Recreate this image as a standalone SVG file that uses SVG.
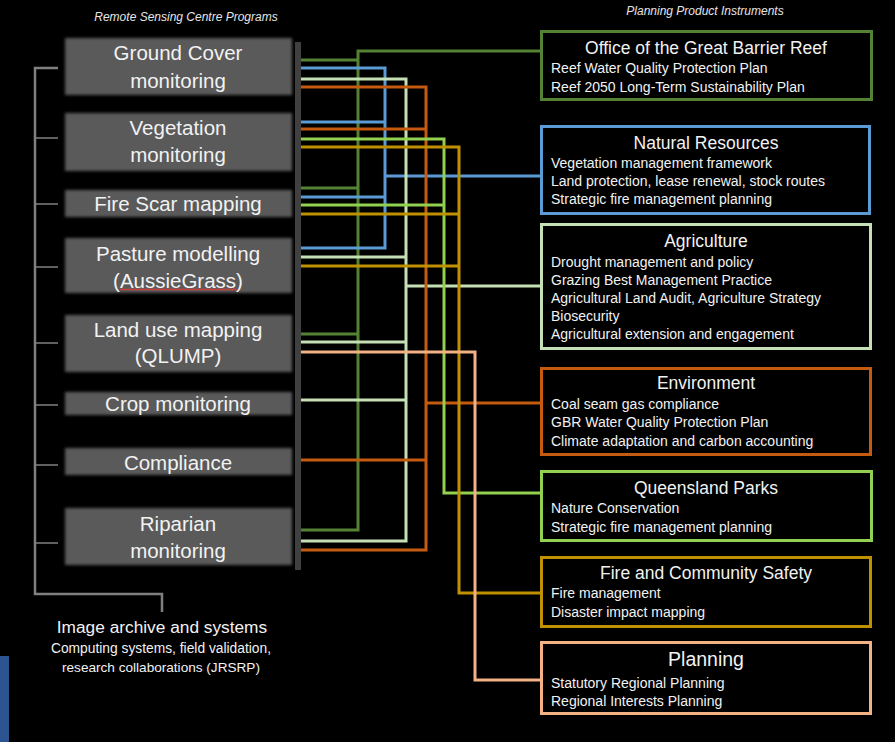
<svg xmlns="http://www.w3.org/2000/svg" width="895" height="742" viewBox="0 0 895 742">
<defs>
<filter id="soft" x="-5%" y="-25%" width="110%" height="150%"><feGaussianBlur stdDeviation="1.7"/></filter>
<style>
.bg{fill:#000}
.prog rect{fill:#5a5a5a;filter:url(#soft)}
.prog text{font-family:"Liberation Sans",Arial,sans-serif;font-size:20.5px;fill:#f2f2f2;text-anchor:middle}
.hdr{font-family:"Liberation Sans",Arial,sans-serif;font-size:12px;font-style:italic;fill:#e6e6e6;text-anchor:middle}
.inst rect{fill:#000;stroke-width:3}
.inst .t{font-family:"Liberation Sans",Arial,sans-serif;font-size:17.5px;fill:#f2f2f2;text-anchor:middle}
.inst .b{font-family:"Liberation Sans",Arial,sans-serif;font-size:14px;fill:#f2f2f2}
.br{stroke:#808080;fill:none;stroke-width:2.5}
.tick{stroke:#808080;fill:none;stroke-width:1.5}
.con path{fill:none;stroke-width:3;stroke-linejoin:miter;stroke-linecap:butt}
.arch{font-family:"Liberation Sans",Arial,sans-serif;fill:#f2f2f2;text-anchor:middle}
</style>
</defs>
<rect class="bg" x="0" y="0" width="895" height="742"/>
<rect x="0" y="656" width="9" height="86" fill="#2c5490"/>

<text class="hdr" x="186" y="21">Remote Sensing Centre Programs</text>
<text class="hdr" x="705" y="15">Planning Product Instruments</text>

<g id="bracket">
<path class="br" d="M58,68 H35 V594 H162 V612"/>
<path class="tick" d="M35,138 H58 M35,204 H58 M35,267 H58 M35,343 H58 M35,405 H58 M35,465 H58 M35,543 H58"/>
</g>

<g id="ground-cover" class="prog"><rect x="65" y="38" width="227" height="57"/><text x="178" y="60">Ground Cover</text><text x="178" y="87.5">monitoring</text></g>
<g id="vegetation" class="prog"><rect x="65" y="113" width="227" height="58"/><text x="178" y="135">Vegetation</text><text x="178" y="162">monitoring</text></g>
<g id="fire-scar" class="prog"><rect x="65" y="190" width="227" height="27"/><text x="178" y="211">Fire Scar mapping</text></g>
<g id="pasture" class="prog"><rect x="65" y="238" width="227" height="55"/><text x="178" y="260.5">Pasture modelling</text><text x="178" y="287.5">(AussieGrass)</text><path d="M120,290 l2,-1 2,1 2,-1 2,1 2,-1 2,1 2,-1 2,1 2,-1 2,1 2,-1 2,1 2,-1 2,1 2,-1 2,1 2,-1 2,1 2,-1 2,1 2,-1 2,1 2,-1 2,1 2,-1 2,1 2,-1 2,1 2,-1 2,1 2,-1 2,1 2,-1 2,1 2,-1 2,1 2,-1 2,1 2,-1 2,1 2,-1 2,1 2,-1 2,1 2,-1 2,1 2,-1 2,1 2,-1 2,1 2,-1 2,1 2,-1 2,1 2,-1 2,1 2,-1 2,1 2,-1" fill="none" stroke="#d0413c" stroke-width="1.2"/></g>
<g id="land-use" class="prog"><rect x="65" y="315" width="227" height="57"/><text x="178" y="336.5">Land use mapping</text><text x="178" y="363">(QLUMP)</text></g>
<g id="crop" class="prog"><rect x="65" y="392" width="227" height="23"/><text x="178" y="411">Crop monitoring</text></g>
<g id="compliance" class="prog"><rect x="65" y="448" width="227" height="27"/><text x="178" y="470">Compliance</text></g>
<g id="riparian" class="prog"><rect x="65" y="508" width="227" height="57"/><text x="178" y="530.5">Riparian</text><text x="178" y="558">monitoring</text></g>

<rect id="bar" x="295" y="42" width="6" height="528" fill="#404040"/>

<g id="image-archive">
<text class="arch" x="162" y="633" font-size="17.3">Image archive and systems</text>
<text class="arch" x="161" y="652.5" font-size="13.8">Computing systems, field validation,</text>
<text class="arch" x="161" y="671.5" font-size="13.6">research collaborations (JRSRP)</text>
</g>

<g id="connectors" class="con">
<path stroke="#548235" d="M301,530 H358 V51 H540 M301,60 H358 M301,188 H358 M301,334 H358"/>
<path stroke="#5b9bd5" d="M301,68 H385 V248 H301 M301,122 H385 M301,197 H385 M385,176 H540"/>
<path stroke="#c5e0b4" d="M301,79 H406 V541 H301 M301,257 H406 M301,342 H406 M301,400 H406 M406,286 H540"/>
<path stroke="#c55a11" d="M301,87 H426 V550 H301 M301,129 H426 M301,460 H426 M426,403 H540"/>
<path stroke="#92d050" d="M301,139 H444 V493 H540 M301,205 H444"/>
<path stroke="#bf9000" d="M301,147 H459 V593 H540 M301,214 H459 M301,266 H459"/>
<path stroke="#f4b183" d="M301,352 H475 V680 H540"/>
</g>

<g id="gbr" class="inst"><rect x="541.5" y="31.5" width="330" height="68" stroke="#548235"/>
<text class="t" x="706" y="54">Office of the Great Barrier Reef</text>
<text class="b" x="551" y="73">Reef Water Quality Protection Plan</text>
<text class="b" x="551" y="92">Reef 2050 Long-Term Sustainability Plan</text></g>

<g id="natural-resources" class="inst"><rect x="541.5" y="126.5" width="328" height="87" stroke="#5b9bd5"/>
<text class="t" x="706" y="149">Natural Resources</text>
<text class="b" x="551" y="168">Vegetation management framework</text>
<text class="b" x="551" y="186">Land protection, lease renewal, stock routes</text>
<text class="b" x="551" y="204">Strategic fire management planning</text></g>

<g id="agriculture" class="inst"><rect x="541.5" y="224.5" width="329" height="124" stroke="#c5e0b4"/>
<text class="t" x="706" y="247">Agriculture</text>
<text class="b" x="551" y="267">Drought management and policy</text>
<text class="b" x="551" y="285">Grazing Best Management Practice</text>
<text class="b" x="551" y="303">Agricultural Land Audit, Agriculture Strategy</text>
<text class="b" x="551" y="321">Biosecurity</text>
<text class="b" x="551" y="339">Agricultural extension and engagement</text></g>

<g id="environment" class="inst"><rect x="541.5" y="368.5" width="329" height="86" stroke="#c55a11"/>
<text class="t" x="706" y="389">Environment</text>
<text class="b" x="551" y="409">Coal seam gas compliance</text>
<text class="b" x="551" y="427">GBR Water Quality Protection Plan</text>
<text class="b" x="551" y="446">Climate adaptation and carbon accounting</text></g>

<g id="queensland-parks" class="inst"><rect x="541.5" y="471.5" width="330" height="69" stroke="#92d050"/>
<text class="t" x="706" y="494">Queensland Parks</text>
<text class="b" x="551" y="513">Nature Conservation</text>
<text class="b" x="551" y="532">Strategic fire management planning</text></g>

<g id="fire-community" class="inst"><rect x="541.5" y="557.5" width="329" height="69" stroke="#bf9000"/>
<text class="t" x="706" y="579">Fire and Community Safety</text>
<text class="b" x="551" y="598">Fire management</text>
<text class="b" x="551" y="617">Disaster impact mapping</text></g>

<g id="planning" class="inst"><rect x="541.5" y="642.5" width="329" height="71" stroke="#f4b183"/>
<text class="t" x="706" y="666" style="font-size:19.5px">Planning</text>
<text class="b" x="551" y="688">Statutory Regional Planning</text>
<text class="b" x="551" y="706">Regional Interests Planning</text></g>
</svg>
